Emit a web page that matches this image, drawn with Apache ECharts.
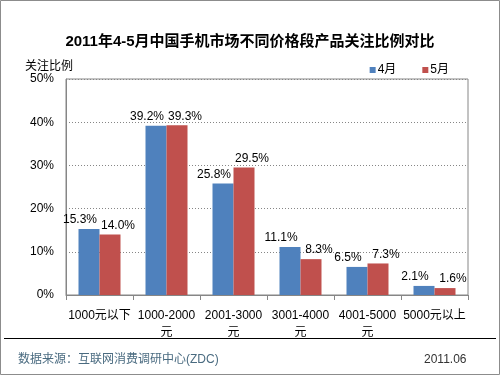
<!DOCTYPE html>
<html>
<head>
<meta charset="utf-8">
<script src="https://cdn.jsdelivr.net/npm/echarts@6/dist/echarts.min.js"></script>
<style>
  html, body { margin: 0; padding: 0; background: #fff; }
  #chart { width: 500px; height: 375px; }
</style>
</head>
<body>
<div id="chart"></div>
<script>
const categories = ['1000元以下', '1000-2000\n元', '2001-3000\n元', '3001-4000\n元', '4001-5000\n元', '5000元以上'];
const april = [15.3, 39.2, 25.8, 11.1, 6.5, 2.1];
const may = [14.0, 39.3, 29.5, 8.3, 7.3, 1.6];
const seriesNames = ['4月', '5月'];

const chart = echarts.init(document.getElementById('chart'));
const font = '"Liberation Sans", "Noto Sans CJK SC", sans-serif';

const pct = p => p.value.toFixed(1) + '%';

const option = {
  animation: false,
  textStyle: { fontFamily: font },
  title: {
    text: '2011年4-5月中国手机市场不同价格段产品关注比例对比',
    left: 'center',
    top: 29,
    textStyle: { fontSize: 15, fontWeight: 'bold', color: '#000', fontFamily: font },
  },
  legend: {
    data: seriesNames,
    right: 46,
    top: 59,
    itemWidth: 6,
    itemHeight: 6,
    itemGap: 26,
    icon: 'rect',
    textStyle: { fontSize: 12, color: '#000', padding: [0, 0, 0, -3] },
  },
  grid: {
    left: 66,
    right: 32,
    top: 79,
    bottom: 80,
    show: true,
    borderColor: '#868686',
    borderWidth: 1,
  },
  xAxis: {
    type: 'category',
    data: categories,
    axisLine: { lineStyle: { color: '#868686' } },
    axisTick: { show: true, length: 5, lineStyle: { color: '#868686' } },
    axisLabel: { color: '#000', fontSize: 12, interval: 0, margin: 12, lineHeight: 17 },
  },
  yAxis: {
    type: 'value',
    name: '关注比例',
    nameLocation: 'end',
    nameGap: 6,
    nameTextStyle: { color: '#000', fontSize: 12, align: 'right', padding: [0, -7, 0, 0] },
    min: 0,
    max: 50,
    interval: 10,
    axisLine: { show: true, lineStyle: { color: '#868686' } },
    axisTick: { show: false },
    axisLabel: { formatter: '{value}%', color: '#000', fontSize: 12, margin: 12 },
    splitLine: { lineStyle: { color: '#868686', type: [1, 2] } },
  },
  series: [
    {
      name: seriesNames[0],
      type: 'bar',
      data: april,
      barWidth: 21,
      barGap: '0%',
      itemStyle: { color: '#4F81BD' },
      label: { show: true, position: 'top', color: '#000', fontSize: 12, formatter: pct, distance: 3, offset: [-9, 0] },
    },
    {
      name: seriesNames[1],
      type: 'bar',
      data: may,
      barWidth: 21,
      itemStyle: { color: '#C0504D' },
      label: { show: true, position: 'top', color: '#000', fontSize: 12, formatter: pct, distance: 3, offset: [8, 0] },
    },
  ],
  graphic: [
    {
      type: 'rect',
      shape: { x: 0.5, y: 0.5, width: 499, height: 374 },
      style: { fill: null, stroke: '#8c8c8c', lineWidth: 1 },
    },
    {
      type: 'line',
      shape: { x1: 4, y1: 338.5, x2: 496, y2: 338.5 },
      style: { stroke: '#000', lineWidth: 1 },
    },
    {
      type: 'text',
      left: 18,
      top: 354,
      style: { text: '数据来源：互联网消费调研中心(ZDC)', fill: '#4a6b80', font: '12px ' + font },
    },
    {
      type: 'text',
      left: 424,
      top: 354,
      style: { text: '2011.06', fill: '#333', font: '12px ' + font },
    },
  ],
};

chart.setOption(option);
</script>
</body>
</html>
